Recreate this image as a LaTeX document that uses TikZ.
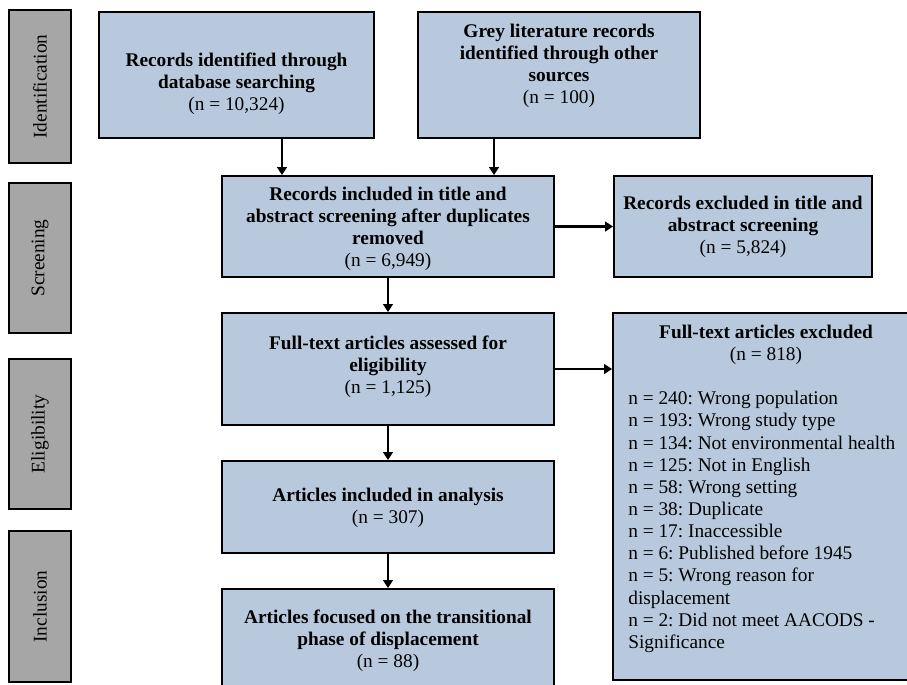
\documentclass[tikz,border=0pt]{standalone}
\usepackage{fontspec}
\setmainfont{Liberation Serif}
\usetikzlibrary{arrows.meta}
\definecolor{boxblue}{RGB}{185,201,221}
\definecolor{sidegray}{RGB}{166,166,166}
\frenchspacing
\begin{document}
\begin{tikzpicture}[x=0.02cm,y=-0.02cm,
  bluebox/.style={draw=black,line width=1.1pt,fill=boxblue,rectangle,inner sep=0pt},
  sidebox/.style={draw=black,line width=1.1pt,fill=sidegray,rectangle,inner sep=0pt,rotate=90,minimum height=1.24cm,font=\fontsize{11}{12.6}\selectfont},
  txt/.style={align=center,inner sep=0pt,font=\fontsize{11}{12.6}\selectfont},
  listtxt/.style={align=left,inner sep=0pt,font=\fontsize{11}{12.6}\selectfont},
  arr/.style={line width=1.2pt,-{Triangle[length=4.5pt,width=5.5pt]}}]
\useasboundingbox (0,0) rectangle (907,684);
\clip (0,0) rectangle (907,684);
% phase labels
\node[sidebox,minimum width=3.06cm] (s1) at (40,86.5) {Identification};
\node[sidebox,minimum width=3.00cm] (s2) at (40,258) {Screening};
\node[sidebox,minimum width=3.00cm] (s3) at (40,434) {Eligibility};
\node[sidebox,minimum width=3.02cm] (s4) at (40,606.5) {Inclusion};
% boxes
\node[bluebox,minimum width=5.5cm,minimum height=2.52cm] (b1) at (236.5,75) {};
\node[txt] (t1) at (236.5,84) {\textbf{Records identified through}\\\textbf{database searching}\\(n = 10,324)};
\node[bluebox,minimum width=5.64cm,minimum height=2.52cm] (b2) at (559,75) {};
\node[txt] (t2) at (559,66) {\textbf{Grey literature records}\\\textbf{identified through other}\\\textbf{sources}\\(n = 100)};
\node[bluebox,minimum width=6.64cm,minimum height=2.02cm] (b3) at (388,226.5) {};
\node[txt] (t3) at (388,229) {\textbf{Records included in title and}\\\textbf{abstract screening after duplicates}\\\textbf{removed}\\(n = 6,949)};
\node[bluebox,minimum width=5.16cm,minimum height=2.02cm] (b4) at (743,226.5) {};
\node[txt] (t4) at (743,227) {\textbf{Records excluded in title and}\\\textbf{abstract screening}\\(n = 5,824)};
\node[bluebox,minimum width=6.64cm,minimum height=2.24cm] (b5) at (388,369) {};
\node[txt] (t5) at (388,367) {\textbf{Full-text articles assessed for}\\\textbf{eligibility}\\(n = 1,125)};
\node[bluebox,minimum width=6.12cm,minimum height=7.34cm] (b6) at (766,496.5) {};
\node[txt,anchor=north] (t6) at (766,325) {\textbf{Full-text articles excluded}\\(n = 818)};
\node[listtxt,anchor=north west] (t6l) at (628,391) {n = 240: Wrong population\\
n = 193: Wrong study type\\
n = 134: Not environmental health\\
n = 125: Not in English\\
n = 58: Wrong setting\\
n = 38: Duplicate\\
n = 17: Inaccessible\\
n = 6: Published before 1945\\
n = 5: Wrong reason for\\
displacement\\
n = 2: Did not meet AACODS -\\
Significance};
\node[bluebox,minimum width=6.64cm,minimum height=1.84cm] (b7) at (388,507) {};
\node[txt] (t7) at (388,508) {\textbf{Articles included in analysis}\\(n = 307)};
\node[bluebox,minimum width=6.64cm,minimum height=2.06cm] (b8) at (388,640.5) {};
\node[txt] (t8) at (388,641) {\textbf{Articles focused on the transitional}\\\textbf{phase of displacement}\\(n = 88)};
% connectors
\coordinate (x1) at (282,0);
\coordinate (x2) at (494,0);
\draw[arr] (b1.south -| x1) -- (b3.north -| x1);
\draw[arr] (b2.south -| x2) -- (b3.north -| x2);
\draw[arr] (b3.east) -- (b4.west);
\draw[arr] (b3.south) -- (b5.north);
\draw[arr] (b5.east) -- (b5.east -| b6.west);
\draw[arr] (b5.south) -- (b7.north);
\draw[arr] (b7.south) -- (b8.north);
\end{tikzpicture}
\end{document}
